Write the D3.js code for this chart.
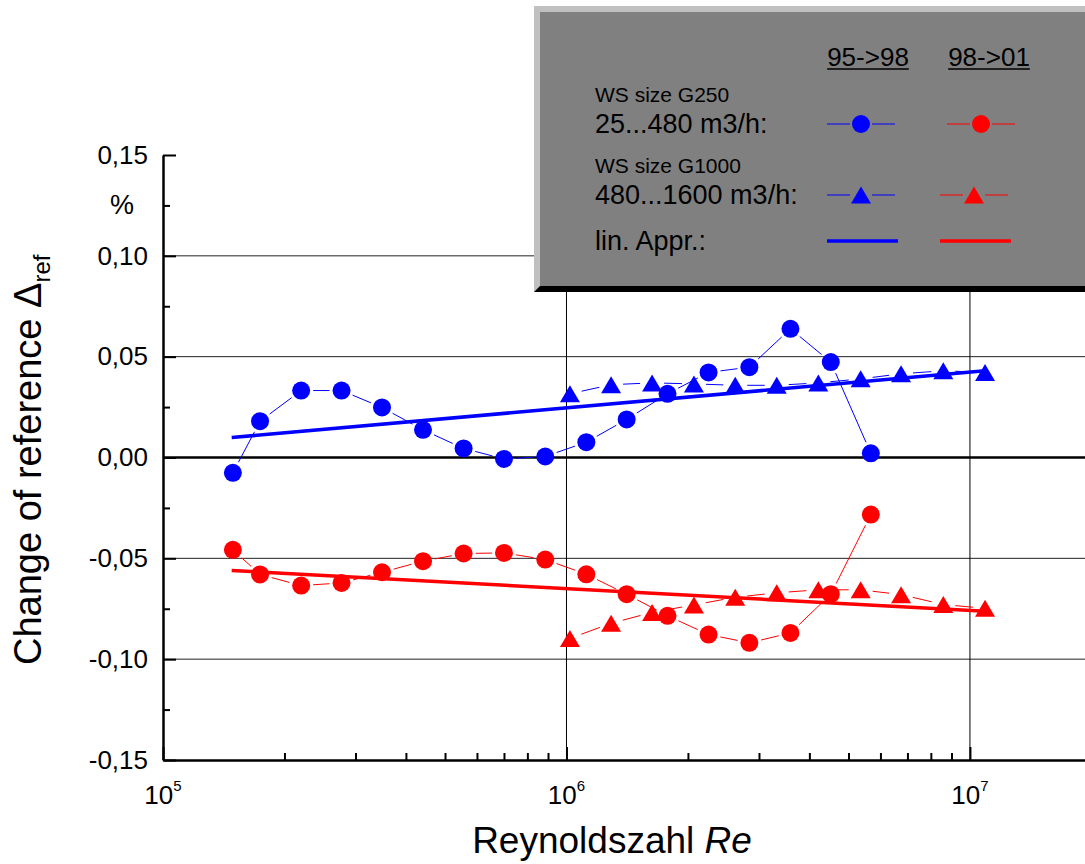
<!DOCTYPE html>
<html>
<head>
<meta charset="utf-8">
<script src="https://cdn.jsdelivr.net/npm/d3@7"></script>
<style>
  body { margin: 0; background: #fff; }
  svg { display: block; font-family: "Liberation Sans", Arial, sans-serif; }
</style>
</head>
<body>
<div id="chart"></div>
<script>
// Reynolds numbers and changes of reference (%)
const reG250 = [1.49e5, 1.74e5, 2.2e5, 2.77e5, 3.49e5, 4.41e5, 5.56e5, 7.0e5, 8.86e5,
                1.12e6, 1.41e6, 1.78e6, 2.25e6, 2.84e6, 3.59e6, 4.52e6, 5.68e6];
const g250_9598 = [-0.0076, 0.018, 0.0332, 0.0332, 0.0248, 0.0137, 0.0045, -0.0007, 0.0005,
                   0.0076, 0.0189, 0.0316, 0.0422, 0.0448, 0.0638, 0.0473, 0.0021];
const g250_9801 = [-0.0458, -0.058, -0.0635, -0.0622, -0.0569, -0.0514, -0.0476, -0.0473, -0.0506,
                   -0.0579, -0.0678, -0.0785, -0.0878, -0.0919, -0.087, -0.0678, -0.0283];

const reG1000 = [1.02e6, 1.29e6, 1.63e6, 2.07e6, 2.62e6, 3.32e6, 4.21e6, 5.36e6, 6.75e6, 8.59e6, 1.09e7];
const g1000_9598 = [0.0316, 0.0361, 0.037, 0.0365, 0.0358, 0.0358, 0.037, 0.039, 0.0415, 0.043, 0.0422];
const g1000_9801 = [-0.0897, -0.0822, -0.0768, -0.0731, -0.0693, -0.0671, -0.0656, -0.0656, -0.068, -0.0729, -0.0748];

// linear approximations (end points)
const fitRe = [1.48e5, 1.09e7];
const fit9598 = [0.0099, 0.043];
const fit9801 = [-0.056, -0.0763];

const yMajor = [-0.15, -0.10, -0.05, 0, 0.05, 0.10, 0.15];
const yMinor = [-0.125, -0.075, -0.025, 0.025, 0.075, 0.125];
const yGrid = [-0.10, -0.05, 0.05, 0.10];
const xDecades = [1e5, 1e6, 1e7];
const xExp = ["5", "6", "7"];

const legendRows = [
  { small: "WS size G250", big: "25...480 m3/h:", shape: "circle" },
  { small: "WS size G1000", big: "480...1600 m3/h:", shape: "triangle" },
  { small: "", big: "lin. Appr.:", shape: "line" }
];
const legendCols = ["95->98", "98->01"];

const BLUE = "#0000ff", RED = "#ff0000";

const width = 1085, height = 864;
const svg = d3.select("#chart").append("svg")
  .attr("width", width).attr("height", height);

const x = d3.scaleLog().domain([1e5, 2e7]).range([163, 1091.4]);
const y = d3.scaleLinear().domain([-0.15, 0.15]).range([760, 155]);

// grid
svg.append("g").selectAll("line").data(yGrid).join("line")
  .attr("x1", 163).attr("x2", width)
  .attr("y1", d => y(d)).attr("y2", d => y(d))
  .attr("stroke", "#222").attr("stroke-width", 1);
svg.append("g").selectAll("line").data(xDecades.slice(1)).join("line")
  .attr("x1", d => x(d)).attr("x2", d => x(d))
  .attr("y1", 155).attr("y2", 760)
  .attr("stroke", "#000").attr("stroke-width", 1);
svg.append("line")
  .attr("x1", 163).attr("x2", width).attr("y1", y(0)).attr("y2", y(0))
  .attr("stroke", "#000").attr("stroke-width", 2.5);

// y axis
const fmt = v => (v < -1e-9 ? "-" : "") + Math.abs(v).toFixed(2).replace(".", ",");
const yAx = svg.append("g").attr("transform", "translate(163,0)")
  .call(d3.axisLeft(y).tickValues(yMajor).tickSize(-13).tickSizeOuter(0).tickPadding(15).tickFormat(fmt));
svg.append("g").attr("transform", "translate(163,0)")
  .call(d3.axisLeft(y).tickValues(yMinor).tickSize(-7).tickSizeOuter(0).tickFormat(""))
  .call(g => g.select(".domain").remove());
yAx.selectAll(".tick text").attr("font-size", 26).attr("fill", "#000")
  .attr("font-family", "Liberation Sans, Arial, sans-serif");

// x axis
svg.append("g").attr("transform", "translate(0,760)")
  .call(d3.axisBottom(x).tickValues(xDecades).tickSize(-13).tickSizeOuter(0).tickFormat(""));
const xMinor = x.ticks().filter(t => !xDecades.includes(t) && t < 1.9e7);
svg.append("g").attr("transform", "translate(0,760)")
  .call(d3.axisBottom(x).tickValues(xMinor).tickSize(-7).tickSizeOuter(0).tickFormat(""))
  .call(g => g.select(".domain").remove());

svg.selectAll(".domain").attr("stroke-width", 2.5);
svg.selectAll(".tick line").attr("stroke-width", 2);

const xl = svg.append("g").selectAll("text").data(xDecades).join("text")
  .attr("x", d => x(d)).attr("y", 804)
  .attr("text-anchor", "middle").attr("font-size", 26);
xl.append("tspan").text("10");
xl.append("tspan").attr("font-size", 15).attr("dy", -13).text((d, i) => xExp[i]);

// axis titles
svg.append("text").attr("x", 122).attr("y", 214).attr("text-anchor", "middle")
  .attr("font-size", 27).text("%");

const yt = svg.append("text").attr("transform", "translate(41,665) rotate(-90)")
  .attr("font-size", 38);
yt.append("tspan").text("Change of reference \u0394");
yt.append("tspan").attr("font-size", 24).attr("dy", 9).text("ref");

const xt = svg.append("text").attr("x", 612).attr("y", 853).attr("text-anchor", "middle")
  .attr("font-size", 37);
xt.append("tspan").text("Reynoldszahl ");
xt.append("tspan").attr("font-style", "italic").text("Re");

// helpers
function gapped(pts, gap) {
  const segs = [];
  for (let i = 0; i < pts.length - 1; i++) {
    const [ax, ay] = pts[i], [bx, by] = pts[i + 1];
    const dx = bx - ax, dy = by - ay, len = Math.hypot(dx, dy);
    if (len <= 2 * gap) continue;
    const ux = dx / len, uy = dy / len;
    segs.push([ax + ux * gap, ay + uy * gap, bx - ux * gap, by - uy * gap]);
  }
  return segs;
}
const tri = (w, h) => `M0,${-h / 2}L${w / 2},${h / 2}L${-w / 2},${h / 2}Z`;

const series = [
  { re: reG250, v: g250_9598, color: BLUE, shape: "circle" },
  { re: reG250, v: g250_9801, color: RED, shape: "circle" },
  { re: reG1000, v: g1000_9598, color: BLUE, shape: "triangle" },
  { re: reG1000, v: g1000_9801, color: RED, shape: "triangle" }
];

// connecting lines
series.forEach(s => {
  const pts = s.re.map((r, i) => [x(r), y(s.v[i])]);
  svg.append("g").selectAll("line").data(gapped(pts, 12)).join("line")
    .attr("x1", d => d[0]).attr("y1", d => d[1]).attr("x2", d => d[2]).attr("y2", d => d[3])
    .attr("stroke", s.color).attr("stroke-width", 1);
});

// fit lines
[[fit9598, BLUE], [fit9801, RED]].forEach(([f, c]) => {
  svg.append("path")
    .attr("d", d3.line().x((d, i) => x(fitRe[i])).y(d => y(d))(f))
    .attr("stroke", c).attr("stroke-width", 3.5).attr("fill", "none");
});

// markers
series.forEach(s => {
  const g = svg.append("g");
  s.re.forEach((r, i) => {
    if (s.shape === "circle") {
      g.append("circle").attr("cx", x(r)).attr("cy", y(s.v[i])).attr("r", 9).attr("fill", s.color);
    } else {
      g.append("path").attr("d", tri(20, 17))
        .attr("transform", `translate(${x(r)},${y(s.v[i])})`).attr("fill", s.color);
    }
  });
});

// legend box
const lg = svg.append("g");
lg.append("rect").attr("x", 534).attr("y", 6).attr("width", 600).attr("height", 286).attr("fill", "#c0c0c0");
lg.append("path").attr("d", "M534,292L540,286L1090,286L1090,292Z").attr("fill", "#000");
lg.append("rect").attr("x", 540).attr("y", 12).attr("width", 600).attr("height", 274).attr("fill", "#808080");

const colX = [868, 989];
legendCols.forEach((t, i) => {
  const tx = lg.append("text").attr("x", colX[i]).attr("y", 66).attr("text-anchor", "middle")
    .attr("font-size", 26).text(t);
  const bb = tx.node().getBBox();
  lg.append("line").attr("x1", bb.x).attr("x2", bb.x + bb.width).attr("y1", 69).attr("y2", 69)
    .attr("stroke", "#000").attr("stroke-width", 1.5);
});

const rowY = [124, 195, 241];
const markX = [[861, 981], [861, 974]];
legendRows.forEach((row, r) => {
  if (row.small) {
    lg.append("text").attr("x", 595).attr("y", rowY[r] - 22).attr("font-size", 21).text(row.small);
  }
  lg.append("text").attr("x", 595).attr("y", rowY[r] + 9).attr("font-size", 27).text(row.big);
  [BLUE, RED].forEach((c, ci) => {
    if (row.shape === "line") {
      const x0 = ci === 0 ? 827 : 940;
      lg.append("line").attr("x1", x0).attr("x2", x0 + 71).attr("y1", rowY[r]).attr("y2", rowY[r])
        .attr("stroke", c).attr("stroke-width", 3.5);
      return;
    }
    const cx = markX[r][ci];
    lg.append("line").attr("x1", cx - 34).attr("x2", cx - 11).attr("y1", rowY[r]).attr("y2", rowY[r])
      .attr("stroke", c).attr("stroke-width", 1);
    lg.append("line").attr("x1", cx + 11).attr("x2", cx + 34).attr("y1", rowY[r]).attr("y2", rowY[r])
      .attr("stroke", c).attr("stroke-width", 1);
    if (row.shape === "circle") {
      lg.append("circle").attr("cx", cx).attr("cy", rowY[r]).attr("r", 9).attr("fill", c);
    } else {
      lg.append("path").attr("d", tri(20, 17)).attr("transform", `translate(${cx},${rowY[r]})`).attr("fill", c);
    }
  });
});
</script>
</body>
</html>
